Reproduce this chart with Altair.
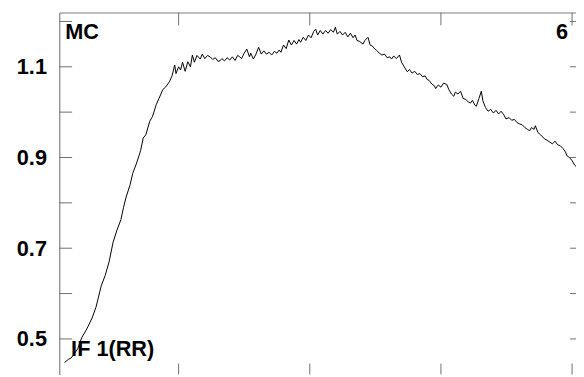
import altair as alt
import pandas as pd

chan = [13, 16, 18, 20, 23, 26, 30, 34, 37, 41, 44, 47, 50, 53, 56, 58, 60, 63, 65, 68,
        71, 73, 75, 78, 80, 83, 85, 88, 90, 93, 95, 97, 98, 100, 101.5, 103, 105, 107, 109, 110.5,
        112, 114, 116.5, 118, 120, 122, 124, 126, 128, 130, 131.5, 133, 135, 137, 139, 141, 143, 145, 146.6, 148,
        150, 152, 154, 155, 157, 159, 161, 163, 165, 167, 169, 171, 173, 175, 176.7, 178, 180, 182, 184, 186,
        188, 190, 191.7, 193, 195, 197, 199, 201, 203, 204.5, 206, 208, 210, 212, 214, 216, 218, 219.5, 221, 223,
        225, 227, 229, 231, 233, 234.6, 236, 238, 240.6, 242, 244.4, 246, 248, 249.6, 251, 253, 255, 257, 259, 261,
        262.4, 264, 266, 268.4, 270, 272, 274.4, 276, 278, 280, 282, 284, 286, 288, 289.5, 291, 293, 295, 296, 298,
        300, 302, 304.5, 306, 308, 309.8, 311, 313, 315, 317, 319, 321, 322.6, 324, 326, 327, 329, 330.8, 332, 334,
        336, 338, 340, 342, 344, 345.9, 348, 349.6, 352, 354, 356, 358, 360, 362, 364, 366, 367.7, 369, 371, 372,
        374, 376, 379, 381, 383, 385, 387, 389, 391, 393, 395, 396, 398, 400, 402, 404, 406]
amp = [0.448, 0.455, 0.458, 0.465, 0.478, 0.502, 0.522, 0.546, 0.570, 0.617, 0.640, 0.670, 0.713, 0.740, 0.763, 0.790, 0.813, 0.840, 0.865, 0.888,
       0.915, 0.943, 0.950, 0.980, 0.990, 1.017, 1.030, 1.050, 1.055, 1.067, 1.080, 1.104, 1.085, 1.100, 1.093, 1.110, 1.090, 1.111, 1.100, 1.126,
       1.110, 1.125, 1.117, 1.128, 1.118, 1.125, 1.122, 1.116, 1.120, 1.112, 1.113, 1.118, 1.113, 1.120, 1.115, 1.122, 1.114, 1.125, 1.122, 1.118,
       1.130, 1.139, 1.122, 1.130, 1.117, 1.128, 1.143, 1.128, 1.135, 1.128, 1.132, 1.126, 1.134, 1.130, 1.137, 1.132, 1.148, 1.140, 1.159, 1.148,
       1.158, 1.150, 1.160, 1.154, 1.165, 1.158, 1.170, 1.164, 1.178, 1.183, 1.170, 1.180, 1.172, 1.180, 1.174, 1.182, 1.176, 1.187, 1.172, 1.178,
       1.170, 1.176, 1.166, 1.174, 1.164, 1.170, 1.158, 1.156, 1.150, 1.158, 1.165, 1.148, 1.145, 1.139, 1.136, 1.130, 1.126, 1.128, 1.120, 1.122,
       1.117, 1.124, 1.118, 1.126, 1.110, 1.100, 1.089, 1.094, 1.086, 1.090, 1.083, 1.085, 1.078, 1.080, 1.072, 1.070, 1.062, 1.058, 1.052, 1.060,
       1.055, 1.064, 1.061, 1.050, 1.040, 1.035, 1.044, 1.040, 1.046, 1.030, 1.028, 1.022, 1.020, 1.026, 1.015, 1.013, 1.030, 1.046, 1.025, 1.010,
       1.002, 1.006, 0.998, 1.004, 0.996, 1.002, 0.994, 0.985, 0.988, 0.982, 0.984, 0.977, 0.974, 0.972, 0.966, 0.962, 0.959, 0.966, 0.962, 0.970,
       0.955, 0.950, 0.941, 0.938, 0.934, 0.930, 0.936, 0.928, 0.926, 0.920, 0.912, 0.904, 0.900, 0.893, 0.883, 0.878, 0.872]

y_ticks = [0.5, 0.6, 0.7, 0.8, 0.9, 1.0, 1.1, 1.2]
y_labels = [0.5, 0.7, 0.9, 1.1]
x_ticks = [100, 200, 300, 400]

W, H = 524, 367
FONT = "Liberation Sans"
TICK = "#6e6e6e"
FRAME = "#808080"

xs = alt.Scale(domain=[9, 403], nice=False, zero=False)
ys = alt.Scale(domain=[0.4217, 1.2196], nice=False, zero=False)

x_axis = alt.Axis(orient="top", labels=False, ticks=False, tickSize=0, grid=False,
                  domainColor=FRAME, domainWidth=1.2, title=None)
y_axis = alt.Axis(values=y_labels, format=".1f", ticks=False, tickSize=0, grid=False,
                  labelFont=FONT, labelFontSize=22, labelFontWeight="bold",
                  labelColor="black", labelPadding=13, domainColor=FRAME,
                  domainWidth=1.2, title=None)

df = pd.DataFrame({"chan": chan, "amp": amp})

line = alt.Chart(df).mark_line(color="black", strokeWidth=1, clip=True).encode(
    x=alt.X("chan:Q", scale=xs, axis=x_axis),
    y=alt.Y("amp:Q", scale=ys, axis=y_axis),
)

yt = pd.DataFrame({"amp": y_ticks})
xt = pd.DataFrame({"chan": x_ticks})

left_ticks = alt.Chart(yt).mark_rule(color=TICK, strokeWidth=1).encode(
    y=alt.Y("amp:Q", scale=ys, axis=y_axis), x=alt.value(0), x2=alt.value(13))
right_ticks = alt.Chart(yt).mark_rule(color=TICK, strokeWidth=1).encode(
    y=alt.Y("amp:Q", scale=ys, axis=y_axis), x=alt.value(W - 6), x2=alt.value(W))
top_ticks = alt.Chart(xt).mark_rule(color=TICK, strokeWidth=1).encode(
    x=alt.X("chan:Q", scale=xs, axis=x_axis), y=alt.value(0), y2=alt.value(13))
bottom_ticks = alt.Chart(xt).mark_rule(color=TICK, strokeWidth=1).encode(
    x=alt.X("chan:Q", scale=xs, axis=x_axis), y=alt.value(356), y2=alt.value(H))


def label(txt, x, y, align):
    return alt.Chart(pd.DataFrame({"t": [txt]})).mark_text(
        font=FONT, fontSize=22, fontWeight="bold", color="black",
        align=align, baseline="alphabetic").encode(
        text="t:N", x=alt.value(x), y=alt.value(y))


chart = alt.layer(
    line, left_ticks, right_ticks, top_ticks, bottom_ticks,
    label("MC", 6, 27, "left"),
    label("6", 516, 27, "right"),
    label("IF 1(RR)", 12, 348, "left"),
).properties(
    width=W, height=H,
    autosize=alt.AutoSizeParams(type="none"),
    padding={"left": 52, "top": 2, "right": 0, "bottom": 0},
).configure_view(stroke=None)

chart.save("out.html", embed_options={"renderer": "svg", "actions": False})
